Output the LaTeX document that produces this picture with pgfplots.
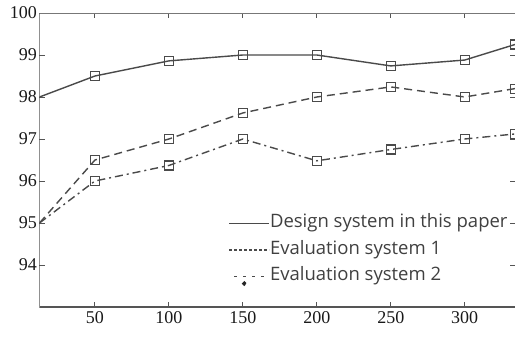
\documentclass[border=0pt]{standalone}
\usepackage{fontspec}
\setmainfont{Liberation Serif}
\newfontfamily\legfont{Open Sans}
\usepackage{pgfplots}
\pgfplotsset{compat=1.18}
\definecolor{ln}{HTML}{4A4A4A}
\definecolor{ax}{HTML}{555555}
\begin{document}
\begin{tikzpicture}
\begin{axis}[
  scale only axis, width=475.5pt, height=294pt,
  xmin=12.5, xmax=334, ymin=93, ymax=100,
  xtick={50,100,150,200,250,300},
  ytick={94,95,96,97,98,99,100},
  tick align=inside, major tick length=5pt,
  tick style={ax, line width=1pt},
  axis line style={draw=none},
  /pgf/number format/assume math mode=true,
  ticklabel style={font=\fontsize{18}{18}\selectfont, text=black!90},
  xticklabel style={yshift=-1pt},
  yticklabel style={xshift=1pt},
  clip marker paths=true,
  legend style={at={(rel axis cs:0.391,0.321)}, anchor=north west, draw=none, fill=none,
    font=\legfont\fontsize{18.5}{18.5}\selectfont, text=black!75, row sep=9pt,
    nodes={inner sep=0pt, text height=13pt, text depth=4.5pt}},
  legend cell align=left,
]
\addplot[ln, line width=1.4pt, mark=square, mark indices={2,3,4,5,6,7,8},
  mark options={solid, fill=white, line width=1.2pt}, mark size=4.5pt,
  legend image code/.code={\draw[ln, line width=1.4pt] (0pt,0pt) -- (40pt,0pt);}]
coordinates {(12.5,98.0) (50,98.5) (100,98.86) (150,99.0) (200,99.0) (250,98.74) (300,98.88) (334,99.25)};
\addlegendentry{Design system in this paper}
\addplot[ln, line width=1.4pt, dash pattern=on 8pt off 5pt, mark=square, mark indices={2,3,4,5,6,7,8},
  mark options={solid, fill=white, line width=1.2pt}, mark size=4.5pt,
  legend image code/.code={\draw[ln, line width=1.2pt, dash pattern=on 3pt off 2pt] (0pt,0pt) -- (40pt,0pt);}]
coordinates {(12.5,95.0) (50,96.5) (100,97.0) (150,97.62) (200,98.0) (250,98.24) (300,98.0) (334,98.2)};
\addlegendentry{Evaluation system 1}
\addplot[ln, line width=1.4pt, dash pattern=on 8pt off 4pt on 2pt off 4pt, mark=square, mark indices={2,3,4,5,6,7,8},
  mark options={solid, fill=white, line width=1.2pt}, mark size=4.5pt,
  legend image code/.code={\draw[ln, line width=1.2pt, dash pattern=on 3pt off 6pt] (5pt,0pt) -- (40pt,0pt); \fill[black!85] (15pt,-7pt) circle (1.6pt);}]
coordinates {(12.5,95.0) (50,96.0) (100,96.37) (150,97.0) (200,96.48) (250,96.75) (300,97.0) (334,97.12)};
\addlegendentry{Evaluation system 2}
\draw[ax, line width=1.3pt] (rel axis cs:0,1) -- (rel axis cs:0,0) -- (rel axis cs:1,0);
\draw[ax!80, line width=2pt] (rel axis cs:0,1) -- (rel axis cs:1,1);
\end{axis}
\pgfresetboundingbox
\path ([xshift=-39.5pt,yshift=-31pt]current axis.south west) rectangle ([yshift=13pt]current axis.north east);
\end{tikzpicture}
\end{document}
